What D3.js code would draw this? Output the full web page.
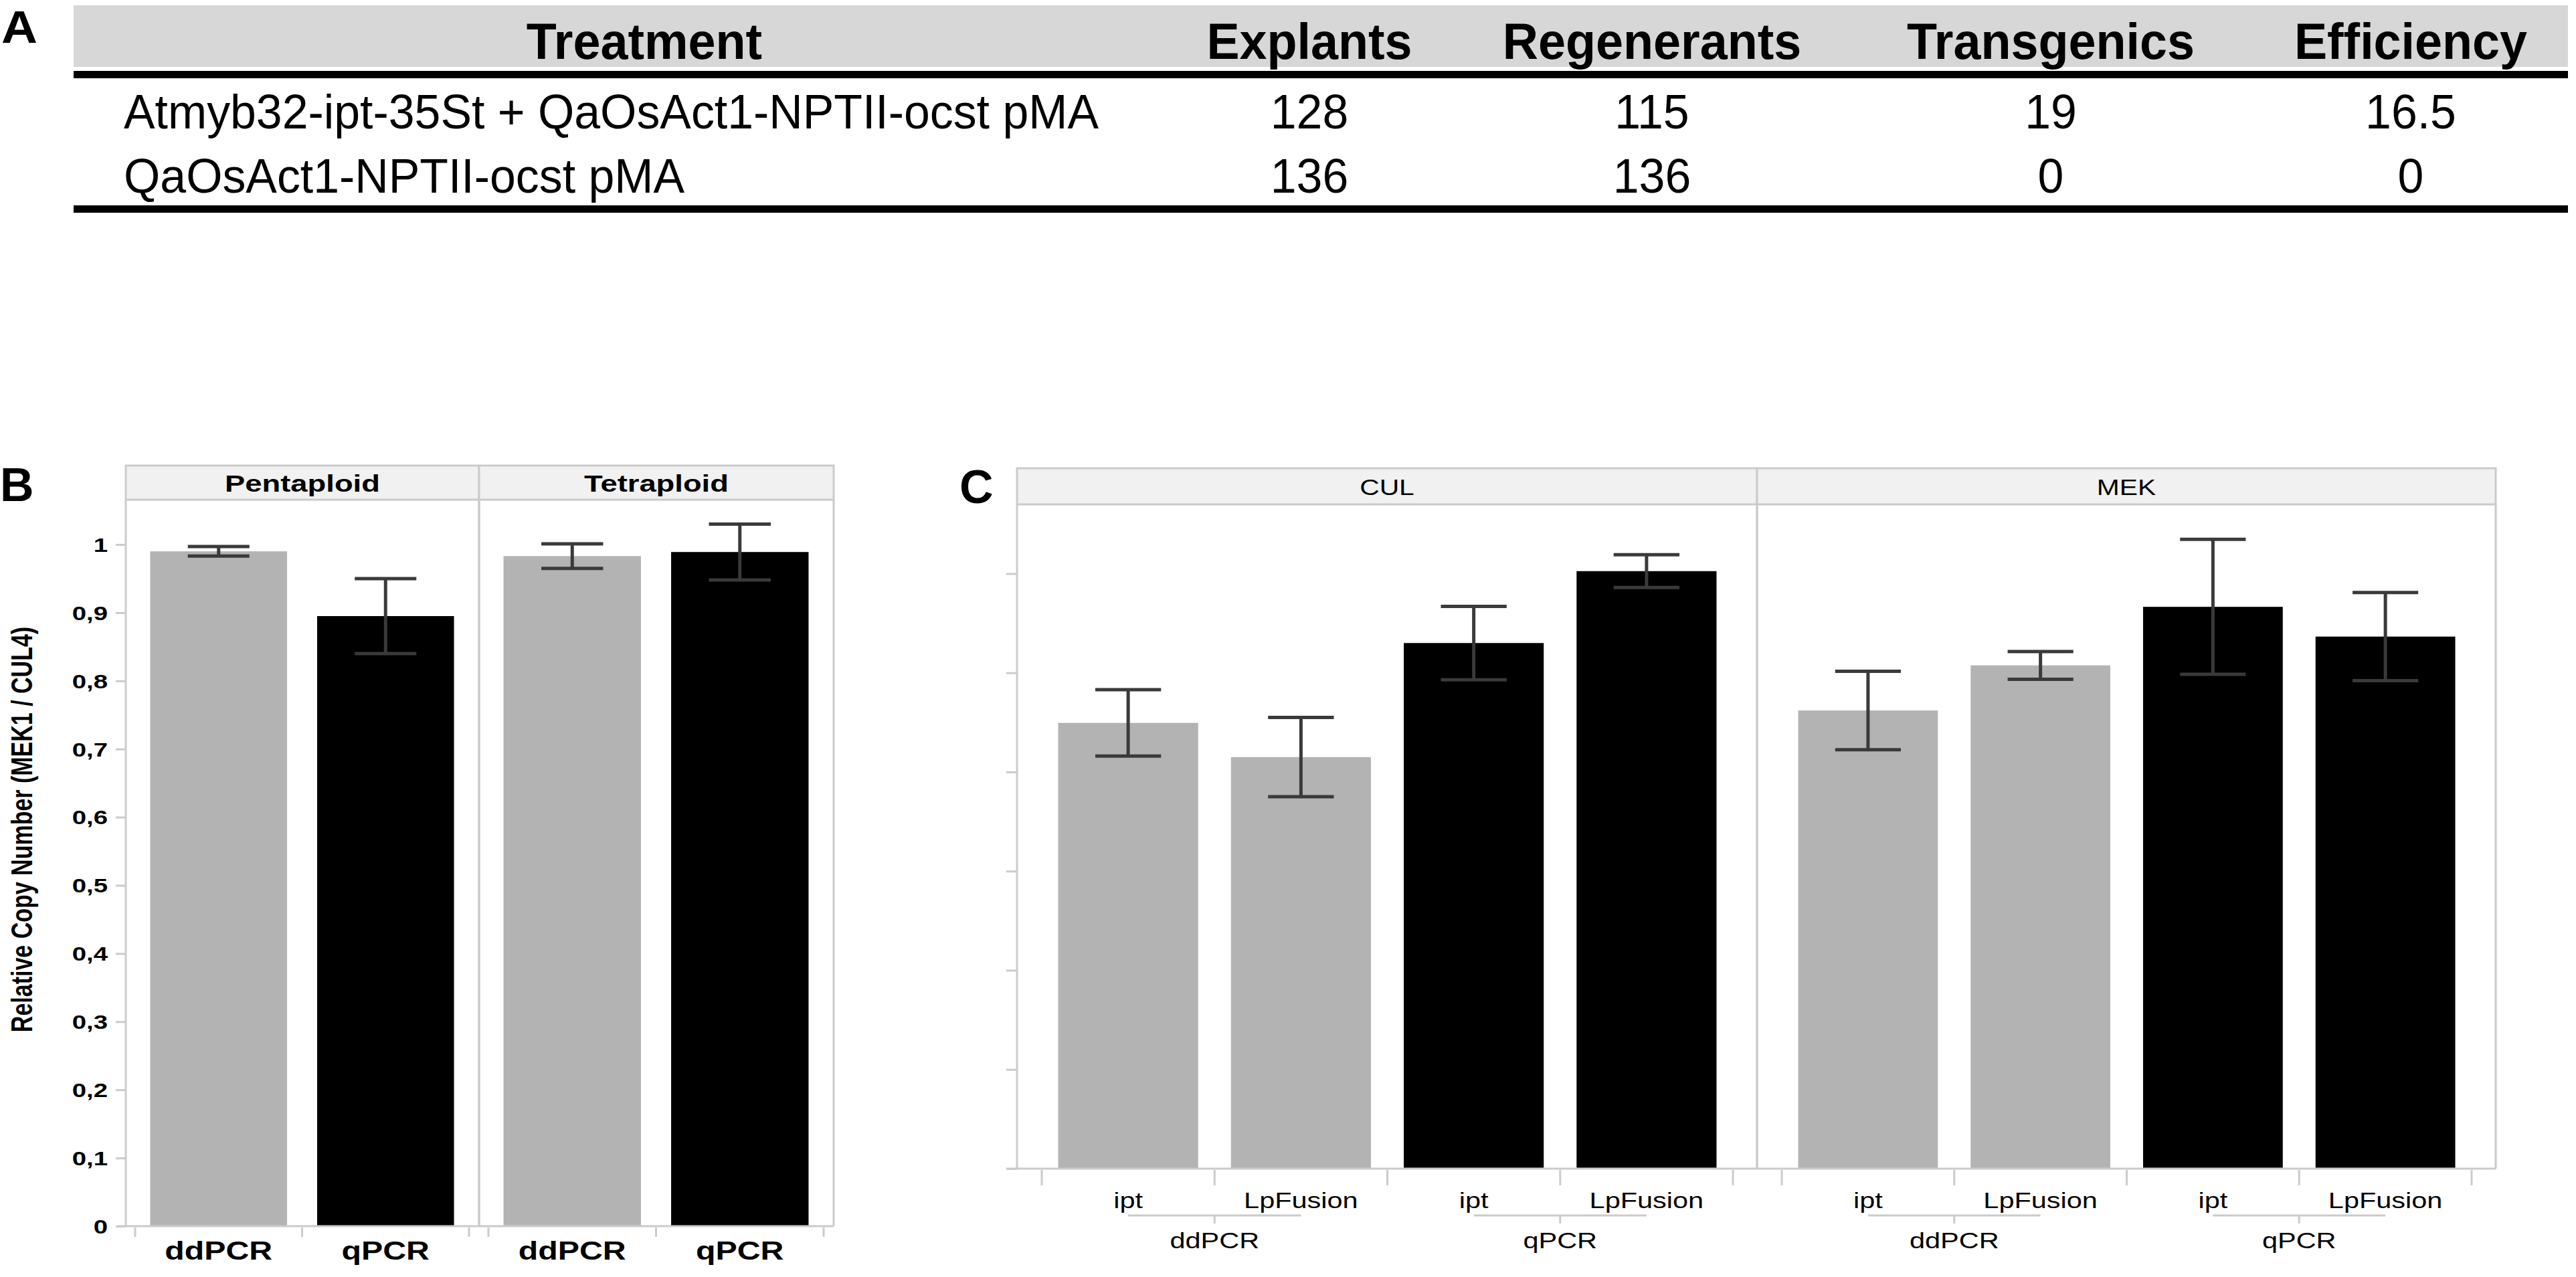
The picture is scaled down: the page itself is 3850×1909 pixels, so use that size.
<!DOCTYPE html>
<html><head><meta charset="utf-8">
<script src="https://cdn.jsdelivr.net/npm/d3@7"></script>
<style>
body{margin:0;background:#fff}
svg{display:block;background:#fff}
text{font-family:"Liberation Sans",Arial,Helvetica,sans-serif}
</style>
</head><body>
<svg id="fig" width="3850" height="1909"></svg>
<script>
// ---------- DATA ----------
// Panel A table
const tableHeaders = ["Treatment", "Explants", "Regenerants", "Transgenics", "Efficiency"];
const treatments = ["Atmyb32-ipt-35St + QaOsAct1-NPTII-ocst pMA", "QaOsAct1-NPTII-ocst pMA"];
const explants = [128, 136];
const regenerants = [115, 136];
const transgenics = [19, 0];
const efficiency = [16.5, 0];

// Panel B
const ploidyFacets = ["Pentaploid", "Tetraploid"];
const methods = ["ddPCR", "qPCR"];
const pentaploidMeans = [0.990, 0.895];
const pentaploidErrors = [0.007, 0.055];
const tetraploidMeans = [0.983, 0.989];
const tetraploidErrors = [0.018, 0.041];
const copyNumberTicks = [0, 0.1, 0.2, 0.3, 0.4, 0.5, 0.6, 0.7, 0.8, 0.9, 1];
const copyNumberTitle = "Relative Copy Number (MEK1 / CUL4)";

// Panel C  (order: ddPCR-ipt, ddPCR-LpFusion, qPCR-ipt, qPCR-LpFusion)
const geneFacets = ["CUL", "MEK"];
const constructs = ["ipt", "LpFusion"];
const culMeans = [0.899, 0.830, 1.060, 1.205];
const culErrors = [0.067, 0.080, 0.074, 0.033];
const mekMeans = [0.924, 1.015, 1.133, 1.073];
const mekErrors = [0.079, 0.028, 0.136, 0.089];
const panelCTicks = [0, 0.2, 0.4, 0.6, 0.8, 1.0, 1.2];

// ---------- HELPERS ----------
const svg = d3.select("#fig");
const FRAME = "#cbcbcb", STRIP = "#f1f1f1", GREY = "#b3b3b3", ERR = "#3a3a3a";
const methodFill = d3.scaleOrdinal().domain(methods).range([GREY, "#000000"]);

function txt(parent, x, y, str, o) {
  o = o || {};
  const sx = o.sx || 1;
  let tr = `translate(${x},${y})`;
  if (o.rotate) tr += ` scale(${sx},1) rotate(${o.rotate})`;
  else tr += ` scale(${sx},1)`;
  return parent.append("text")
    .attr("transform", tr)
    .attr("text-anchor", o.anchor || "middle")
    .attr("dy", o.dy || 0)
    .style("font-size", (o.size || 30) + "px")
    .style("font-weight", o.weight || "normal")
    .style("fill", o.fill || "#000")
    .text(str);
}

// ---------- PANEL A: TABLE ----------
const gA = svg.append("g");
txt(gA, 2, 64, "A", {size: 68, weight: "bold", anchor: "start", sx: 1.1});
const tableX = [110, 3838];
const colX = d3.scaleOrdinal().domain(tableHeaders).range([963, 1957, 2469, 3065, 3603]);
const rowY = d3.scaleLinear().domain([0, 1]).range([192, 288]);
gA.append("rect").attr("x", tableX[0]).attr("y", 8).attr("width", tableX[1] - tableX[0]).attr("height", 92).attr("fill", "#d7d7d7");
gA.append("rect").attr("x", tableX[0]).attr("y", 106).attr("width", tableX[1] - tableX[0]).attr("height", 11).attr("fill", "#000");
gA.append("rect").attr("x", tableX[0]).attr("y", 307).attr("width", tableX[1] - tableX[0]).attr("height", 11).attr("fill", "#000");
tableHeaders.forEach(h => txt(gA, colX(h), 88, h, {size: 76, weight: "bold", sx: 0.97}));
treatments.forEach((t, i) => {
  txt(gA, 185, rowY(i), t, {size: 72, anchor: "start", sx: 0.97});
  txt(gA, colX("Explants"), rowY(i), explants[i], {size: 72, sx: 0.97});
  txt(gA, colX("Regenerants"), rowY(i), regenerants[i], {size: 72, sx: 0.97});
  txt(gA, colX("Transgenics"), rowY(i), transgenics[i], {size: 72, sx: 0.97});
  txt(gA, colX("Efficiency"), rowY(i), efficiency[i], {size: 72, sx: 0.97});
});

// ---------- generic faceted bar panel ----------
function facetPanel(cfg) {
  const g = svg.append("g");
  const y = cfg.y;
  const base = y(0);
  cfg.facets.forEach((f, fi) => {
    const [x0, x1] = cfg.facetX[fi];
    const xs = d3.scaleBand().domain(cfg.cats).range([x0 + cfg.inset[0], x1 - cfg.inset[1]])
      .paddingInner(cfg.pad).paddingOuter(cfg.pad / 2);
    // strip
    g.append("rect").attr("x", x0).attr("y", cfg.stripY[0]).attr("width", x1 - x0)
      .attr("height", cfg.stripY[1] - cfg.stripY[0]).attr("fill", STRIP).attr("stroke", FRAME).attr("stroke-width", 3);
    txt(g, (x0 + x1) / 2, cfg.stripText.y, f, {size: cfg.stripText.size, weight: cfg.stripText.weight, sx: cfg.stripText.sx});
    // frame verticals
    [x0, x1].forEach(xx => g.append("line").attr("x1", xx).attr("x2", xx).attr("y1", cfg.stripY[1]).attr("y2", base)
      .attr("stroke", FRAME).attr("stroke-width", 3));
    // x tick marks at category boundaries
    const step = xs.step();
    const r0 = xs.range()[0];
    d3.range(cfg.cats.length + 1).forEach(k => {
      g.append("line").attr("x1", r0 + k * step).attr("x2", r0 + k * step)
        .attr("y1", base + 2).attr("y2", base + cfg.xTickLen)
        .attr("stroke", FRAME).attr("stroke-width", 3);
    });
    // bars
    const data = cfg.cats.map((c, i) => ({cat: c, mean: cfg.means[fi][i], err: cfg.errors[fi][i], method: cfg.methodOf(c)}));
    g.selectAll(null).data(data).enter().append("rect")
      .attr("x", d => xs(d.cat)).attr("width", xs.bandwidth())
      .attr("y", d => y(d.mean)).attr("height", d => base - y(d.mean))
      .attr("fill", d => methodFill(d.method));
    // error bars
    const cap = xs.bandwidth() * cfg.capFrac / 2;
    const eb = g.selectAll(null).data(data).enter().append("g")
      .attr("stroke", ERR).attr("stroke-width", 5);
    eb.append("line").attr("x1", d => xs(d.cat) + xs.bandwidth() / 2).attr("x2", d => xs(d.cat) + xs.bandwidth() / 2)
      .attr("y1", d => y(d.mean - d.err)).attr("y2", d => y(d.mean + d.err));
    eb.append("line").attr("x1", d => xs(d.cat) + xs.bandwidth() / 2 - cap).attr("x2", d => xs(d.cat) + xs.bandwidth() / 2 + cap)
      .attr("y1", d => y(d.mean + d.err)).attr("y2", d => y(d.mean + d.err));
    eb.append("line").attr("x1", d => xs(d.cat) + xs.bandwidth() / 2 - cap).attr("x2", d => xs(d.cat) + xs.bandwidth() / 2 + cap)
      .attr("y1", d => y(d.mean - d.err)).attr("y2", d => y(d.mean - d.err));
    cfg.xLabels(g, xs);
  });
  // baseline
  g.append("line").attr("x1", cfg.axisStart).attr("x2", cfg.facetX[cfg.facetX.length - 1][1])
    .attr("y1", base).attr("y2", base).attr("stroke", FRAME).attr("stroke-width", 3);
  // y axis ticks
  const ax = g.append("g").attr("transform", `translate(${cfg.facetX[0][0]},0)`)
    .call(d3.axisLeft(y).tickValues(cfg.ticks).tickSize(cfg.yTickLen).tickFormat(""));
  ax.select(".domain").remove();
  ax.selectAll("line").attr("stroke", FRAME).attr("stroke-width", 3);
  return g;
}

// ---------- PANEL B ----------
const yB = d3.scaleLinear().domain([0, 1]).range([1833, 814]);
const gB = facetPanel({
  facets: ploidyFacets,
  facetX: [[188, 716], [716, 1246]],
  inset: [14, 15],
  cats: methods,
  methodOf: c => c,
  means: [pentaploidMeans, tetraploidMeans],
  errors: [pentaploidErrors, tetraploidErrors],
  pad: 0.18, capFrac: 0.45,
  y: yB, ticks: copyNumberTicks,
  stripY: [696, 747],
  stripText: {y: 735, size: 36, weight: "bold", sx: 1.26},
  xTickLen: 16, yTickLen: 15, axisStart: 175,
  xLabels: (g, xs) => methods.forEach(m =>
    txt(g, xs(m) + xs.bandwidth() / 2, 1883, m, {size: 38, weight: "bold", sx: 1.27}))
});
copyNumberTicks.forEach(v => txt(gB, 161, yB(v), d3.format("~g")(v).replace(".", ","),
  {size: 30, weight: "bold", anchor: "end", sx: 1.28, dy: "0.36em"}));
txt(gB, 32, 1240, copyNumberTitle, {size: 34, weight: "bold", sx: 1.3, rotate: -90, dy: "0.36em"});
txt(gB, 0, 749, "B", {size: 70, weight: "bold", anchor: "start"});

// ---------- PANEL C ----------
const yC = d3.scaleLinear().domain([0, 1.2]).range([1747, 857.5]);
const cCats = [];
methods.forEach(m => constructs.forEach(c => cCats.push(m + "|" + c)));
const gC = facetPanel({
  facets: geneFacets,
  facetX: [[1520, 2626], [2626, 3730]],
  inset: [37, 36],
  cats: cCats,
  methodOf: c => c.split("|")[0],
  means: [culMeans, mekMeans],
  errors: [culErrors, mekErrors],
  pad: 0.19, capFrac: 0.47,
  y: yC, ticks: panelCTicks,
  stripY: [700, 754],
  stripText: {y: 740, size: 34, weight: "normal", sx: 1.2},
  xTickLen: 25, yTickLen: 16, axisStart: 1504,
  xLabels: (g, xs) => {
    cCats.forEach(c => txt(g, xs(c) + xs.bandwidth() / 2, 1806, c.split("|")[1], {size: 34, sx: 1.22}));
    methods.forEach(m => {
      const a = xs(m + "|" + constructs[0]) + xs.bandwidth() / 2;
      const b = xs(m + "|" + constructs[constructs.length - 1]) + xs.bandwidth() / 2;
      const mid = (a + b) / 2;
      g.append("line").attr("x1", a).attr("x2", b).attr("y1", 1817).attr("y2", 1817)
        .attr("stroke", FRAME).attr("stroke-width", 3);
      g.append("line").attr("x1", mid).attr("x2", mid).attr("y1", 1817).attr("y2", 1829)
        .attr("stroke", FRAME).attr("stroke-width", 3);
      txt(g, mid, 1866, m, {size: 34, sx: 1.22});
    });
  }
});
txt(gC, 1434, 752, "C", {size: 70, weight: "bold", anchor: "start"});
</script>
</body></html>
